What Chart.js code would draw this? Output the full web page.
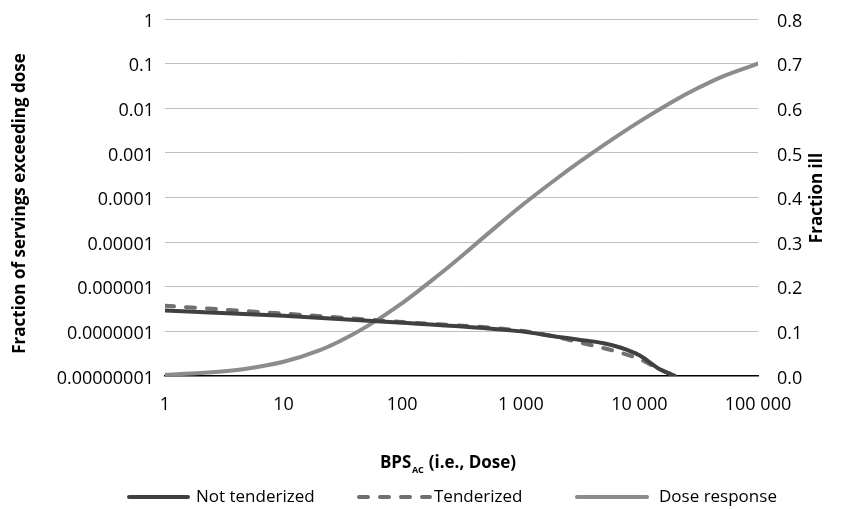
<!DOCTYPE html>
<html>
<head>
<meta charset="utf-8">
<script src="https://cdn.jsdelivr.net/npm/chart.js@4.4.1/dist/chart.umd.min.js"></script>
<style>
html,body{margin:0;padding:0;background:#ffffff;}
#wrap{width:849px;height:509px;position:relative;}
</style>
</head>
<body>
<div id="wrap"><canvas id="c" width="849" height="509"></canvas></div>
<script>
// ---- data ----
const doseValues = [1, 2, 3, 5, 10, 20, 30, 50, 100, 200, 300, 500, 1000, 2000, 3000, 5000, 10000, 20000, 30000, 50000, 100000];
const doseResponse = [0.003, 0.0066, 0.0101, 0.0168, 0.0318, 0.0574, 0.0785, 0.1107, 0.1634, 0.2251, 0.2635, 0.3135, 0.3803, 0.442, 0.4763, 0.5174, 0.570, 0.618, 0.643, 0.671, 0.700];

const exposureDoses = [1, 10, 100, 1000, 2000, 3000, 5000, 7000, 10000, 15000, 20000];
const notTenderized = [2.95e-7, 2.23e-7, 1.57e-7, 1.0e-7, 7.6e-8, 6.6e-8, 5.4e-8, 4.3e-8, 2.9e-8, 1.4e-8, 1.0e-8];
const tenderized = [3.75e-7, 2.5e-7, 1.62e-7, 1.03e-7, 7.5e-8, 5.8e-8, 4.2e-8, 3.3e-8, 2.4e-8, 1.4e-8, 1.0e-8];

const seriesNames = ['Not tenderized', 'Tenderized', 'Dose response'];

const xTickValues = [1, 10, 100, 1000, 10000, 100000];
const xTickLabels = ['1', '10', '100', '1 000', '10 000', '100 000'];
const yLeftTickValues = [1e-8, 1e-7, 1e-6, 1e-5, 1e-4, 1e-3, 1e-2, 1e-1, 1];
const yLeftTickLabels = ['0.00000001', '0.0000001', '0.000001', '0.00001', '0.0001', '0.001', '0.01', '0.1', '1'];
const yRightTickValues = [0, 0.1, 0.2, 0.3, 0.4, 0.5, 0.6, 0.7, 0.8];
const yRightTickLabels = ['0.0', '0.1', '0.2', '0.3', '0.4', '0.5', '0.6', '0.7', '0.8'];

const xTitleMain = 'BPS';
const xTitleSub = 'AC';
const xTitleRest = ' (i.e., Dose)';
const yLeftTitle = 'Fraction of servings exceeding dose';
const yRightTitle = 'Fraction ill';

// ---- build ----
const toPoints = (xs, ys) => xs.map((x, i) => ({ x: x, y: ys[i] }));
const tickFont = { family: '"Open Sans"', size: 18 };
const noPad = (s) => { s.paddingTop = 0; s.paddingBottom = 0; s.paddingLeft = 0; s.paddingRight = 0; };

const decorPlugin = {
  id: 'decor',
  afterDraw(chart) {
    const ctx = chart.ctx;
    ctx.save();
    ctx.fillStyle = '#000';
    // left title
    ctx.font = 'bold 17px "Open Sans"';
    ctx.textAlign = 'center';
    ctx.textBaseline = 'alphabetic';
    ctx.save();
    ctx.translate(25, 203.5);
    ctx.rotate(-Math.PI / 2);
    ctx.fillText(yLeftTitle, 0, 0);
    ctx.restore();
    // right title
    ctx.save();
    ctx.translate(822, 198);
    ctx.rotate(-Math.PI / 2);
    ctx.fillText(yRightTitle, 0, 0);
    ctx.restore();
    // x title with subscript
    ctx.textAlign = 'left';
    ctx.font = 'bold 17px "Open Sans"';
    const w1 = ctx.measureText(xTitleMain).width;
    const w3 = ctx.measureText(xTitleRest).width;
    ctx.font = 'bold 9px "Open Sans"';
    const w2 = ctx.measureText(xTitleSub).width + 1;
    const total = w1 + w2 + w3;
    let x0 = 448 - total / 2;
    ctx.font = 'bold 17px "Open Sans"';
    ctx.fillText(xTitleMain, x0, 468);
    ctx.font = 'bold 9px "Open Sans"';
    ctx.fillText(xTitleSub, x0 + w1 + 0.5, 473);
    ctx.font = 'bold 17px "Open Sans"';
    ctx.fillText(xTitleRest, x0 + w1 + w2, 468);

    // legend
    const layout = [
      { sx: 129, ex: 188, tx: 196 },
      { sx: 359, ex: 430, tx: 434 },
      { sx: 577, ex: 647, tx: 659 }
    ];
    const ly = 497;
    ctx.font = '17px "Open Sans"';
    ctx.textBaseline = 'middle';
    chart.data.datasets.forEach((ds, i) => {
      const L = layout[i];
      ctx.save();
      ctx.strokeStyle = ds.borderColor;
      ctx.lineWidth = ds.borderWidth;
      ctx.lineCap = 'round';
      ctx.setLineDash(ds.borderDash || []);
      ctx.beginPath();
      ctx.moveTo(L.sx, ly);
      ctx.lineTo(L.ex, ly);
      ctx.stroke();
      ctx.restore();
      ctx.fillStyle = '#000';
      ctx.fillText(ds.label, L.tx, ly + 0.5);
    });
    ctx.restore();
  }
};

new Chart(document.getElementById('c'), {
  type: 'line',
  data: {
    datasets: [
      {
        label: seriesNames[0],
        data: toPoints(exposureDoses, notTenderized),
        yAxisID: 'y',
        borderColor: '#404040',
        borderWidth: 4,
        borderCapStyle: 'round',
        pointRadius: 0,
        cubicInterpolationMode: 'monotone',
        fill: false
      },
      {
        label: seriesNames[1],
        data: toPoints(exposureDoses, tenderized),
        yAxisID: 'y',
        borderColor: '#707070',
        borderWidth: 4,
        borderDash: [9, 12],
        borderCapStyle: 'round',
        pointRadius: 0,
        cubicInterpolationMode: 'monotone',
        fill: false
      },
      {
        label: seriesNames[2],
        data: toPoints(doseValues, doseResponse),
        yAxisID: 'y1',
        borderColor: '#8c8c8c',
        borderWidth: 4,
        borderCapStyle: 'round',
        pointRadius: 0,
        cubicInterpolationMode: 'monotone',
        fill: false
      }
    ]
  },
  options: {
    responsive: false,
    animation: false,
    devicePixelRatio: 1,
    layout: { padding: { top: 19, left: 0, right: 0, bottom: 0 } },
    plugins: { legend: { display: false }, tooltip: { enabled: false }, title: { display: false } },
    scales: {
      x: {
        type: 'logarithmic',
        position: 'bottom',
        min: 1,
        max: 100000,
        afterBuildTicks: (s) => { s.ticks = xTickValues.map(v => ({ value: v })); },
        afterFit: (s) => { s.height = 133; noPad(s); },
        ticks: {
          autoSkip: false, maxRotation: 0, minRotation: 0,
          padding: 18, color: '#000', font: tickFont,
          callback: (v, i) => xTickLabels[i]
        },
        grid: { display: false, drawTicks: false },
        border: { display: true, color: '#000', width: 1.5 }
      },
      y: {
        type: 'logarithmic',
        position: 'left',
        min: 1e-8,
        max: 1,
        afterBuildTicks: (s) => { s.ticks = yLeftTickValues.map(v => ({ value: v })); },
        afterFit: (s) => { s.width = 165; noPad(s); },
        ticks: {
          autoSkip: false, padding: 11, color: '#000', font: tickFont, labelOffset: 2.5,
          callback: (v, i) => yLeftTickLabels[i]
        },
        grid: {
          drawTicks: false, lineWidth: 1,
          color: (c) => (c.index === 0 ? 'rgba(0,0,0,0)' : '#bfbfbf')
        },
        border: { display: false }
      },
      y1: {
        type: 'linear',
        position: 'right',
        min: 0,
        max: 0.8,
        afterBuildTicks: (s) => { s.ticks = yRightTickValues.map(v => ({ value: v })); },
        afterFit: (s) => { s.width = 91; noPad(s); },
        ticks: {
          autoSkip: false, padding: 19, color: '#000', font: tickFont, labelOffset: 2.5,
          callback: (v, i) => yRightTickLabels[i]
        },
        grid: { display: false, drawTicks: false },
        border: { display: false }
      }
    }
  },
  plugins: [decorPlugin]
});
</script>
</body>
</html>
